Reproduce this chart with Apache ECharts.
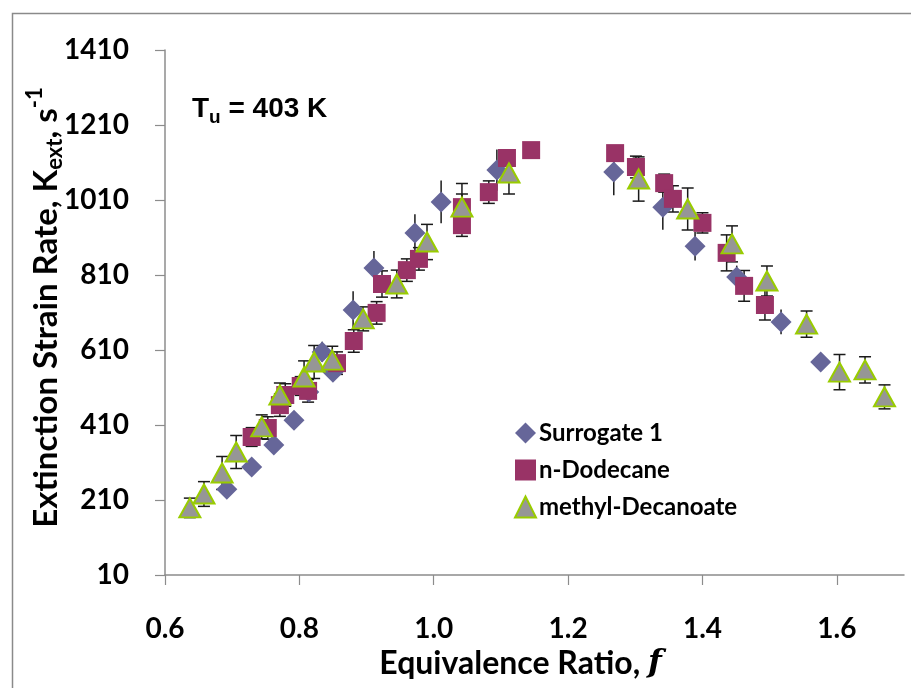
<!DOCTYPE html>
<html><head><meta charset="utf-8">
<script src="https://cdn.jsdelivr.net/npm/echarts@6/dist/echarts.min.js"></script>
<style>html,body{margin:0;padding:0;background:#fff}#c{width:911px;height:688px}</style>
</head><body><div id="c"></div>
<script>
// ---- data ----
const seriesNames = ['Surrogate 1', 'n-Dodecane', 'methyl-Decanoate'];

const surrogateX = [0.692, 0.729, 0.762, 0.792, 0.814, 0.834, 0.850, 0.880, 0.911, 0.972, 1.011, 1.094,
                    1.268, 1.341, 1.389, 1.451, 1.517, 1.576];
const surrogateY = [239, 298, 357, 423, 498, 605, 551, 717, 829, 922, 1005, 1090,
                    1085, 991, 887, 805, 685, 578];
const surrogateErr = [0, 0, 0, 0, 0, 27, 0, 50, 45, 50, 57, 55,
                      62, 60, 38, 30, 33, 0];

const dodecaneX = [0.729, 0.753, 0.771, 0.779, 0.802, 0.813, 0.856, 0.881, 0.915, 0.923, 0.960, 0.978,
                   1.042, 1.042, 1.082, 1.109, 1.145,
                   1.270, 1.301, 1.343, 1.356, 1.400, 1.436, 1.462, 1.493];
const dodecaneY = [378, 402, 463, 490, 514, 501, 575, 634, 709, 786, 823, 853,
                   991, 943, 1031, 1122, 1143,
                   1135, 1098, 1055, 1013, 949, 869, 781, 730];
const dodecaneErr = [25, 30, 30, 30, 25, 30, 30, 30, 30, 35, 30, 30,
                     35, 30, 30, 20, 15,
                     12, 29, 24, 35, 27, 48, 41, 40];

const decanoateX = [0.637, 0.658, 0.685, 0.706, 0.744, 0.771, 0.807, 0.822, 0.849, 0.895, 0.945, 0.990,
                    1.042, 1.112,
                    1.305, 1.378, 1.444, 1.496, 1.555, 1.604, 1.642, 1.671];
const decanoateY = [189, 226, 282, 338, 405, 490, 538, 578, 583, 693, 786, 898,
                    991, 1082,
                    1066, 986, 893, 794, 679, 551, 557, 485];
const decanoateErr = [26, 33, 44, 44, 32, 32, 43, 44, 37, 32, 37, 47,
                      63, 56,
                      59, 56, 48, 40, 35, 47, 35, 32];

const xTicks = [0.6, 0.8, 1.0, 1.2, 1.4, 1.6];
const yTicks = [10, 210, 410, 610, 810, 1010, 1210, 1410];

// ---- chart ----
const FONT = 'Lato';
function pts(xs, ys) { return xs.map((x, i) => [x, ys[i]]); }

function errSeries(xs, ys, errs, caps) {
  const data = [];
  xs.forEach((x, i) => { if (errs[i] > 0) data.push([x, ys[i] - errs[i], ys[i] + errs[i]]); });
  return {
    type: 'custom', silent: true, z: 1,
    data: data,
    encode: { x: 0, y: [1, 2] },
    renderItem: function (params, api) {
      const x = api.value(0);
      const lo = api.coord([x, api.value(1)]);
      const hi = api.coord([x, api.value(2)]);
      const st = { stroke: '#1a1a1a', lineWidth: 1.5 };
      const ch = [{ type: 'line', shape: { x1: lo[0], y1: lo[1], x2: hi[0], y2: hi[1] }, style: st }];
      if (caps) {
        ch.push({ type: 'line', shape: { x1: lo[0] - 6, y1: lo[1], x2: lo[0] + 6, y2: lo[1] }, style: st });
        ch.push({ type: 'line', shape: { x1: hi[0] - 6, y1: hi[1], x2: hi[0] + 6, y2: hi[1] }, style: st });
      }
      return { type: 'group', children: ch };
    }
  };
}

const chart = echarts.init(document.getElementById('c'), null, { renderer: 'canvas' });
chart.setOption({
  animation: false,
  backgroundColor: '#ffffff',
  textStyle: { fontFamily: FONT },
  grid: { left: 165, right: 7, top: 50, bottom: 113, outerBoundsMode: 'none', containLabel: false },
  xAxis: {
    type: 'value', min: 0.6, max: 1.7, interval: 0.2,
    splitLine: { show: false },
    axisLine: { lineStyle: { color: '#8c8c8c', width: 1.5 } },
    axisTick: { length: 10, lineStyle: { color: '#8c8c8c', width: 1.2 }, customValues: xTicks },
    axisLabel: { customValues: xTicks, margin: 40, fontSize: 28, fontWeight: 'bold', color: '#000',
                 formatter: v => v.toFixed(1) },
    name: '{a|Equivalence Ratio, }{b|f}',
    nameLocation: 'middle', nameGap: 73, nameMoveOverlap: false,
    nameTextStyle: {
      padding: [0, 28, 0, 0],
      rich: {
        a: { fontSize: 32, fontWeight: 'bold', color: '#000', fontFamily: FONT },
        b: { fontSize: 32, fontWeight: 'bold', fontStyle: 'italic', color: '#000', fontFamily: 'DejaVu Serif' }
      }
    }
  },
  yAxis: {
    type: 'value', min: 10, max: 1410,
    splitLine: { show: false },
    axisLine: { show: true, lineStyle: { color: '#8c8c8c', width: 1.5 } },
    axisTick: { show: true, length: 10, lineStyle: { color: '#8c8c8c', width: 1.2 }, customValues: yTicks },
    axisLabel: { customValues: yTicks, margin: 36, fontSize: 28, fontWeight: 'bold', color: '#000',
                 formatter: v => String(v) },
    name: '{a|Extinction Strain Rate, K}{sub|ext}{a|, s}{sup|-1}',
    nameLocation: 'middle', nameGap: 97, nameRotate: 90, nameMoveOverlap: false,
    nameTextStyle: {
      padding: [0, 0, 0, 10],
      rich: {
        a: { fontSize: 33, fontWeight: 'bold', color: '#000', lineHeight: 44, verticalAlign: 'middle' },
        sub: { fontSize: 22, fontWeight: 'bold', color: '#000', lineHeight: 44, verticalAlign: 'bottom', padding: [0, 0, 2, 0] },
        sup: { fontSize: 22, fontWeight: 'bold', color: '#000', lineHeight: 44, verticalAlign: 'top' }
      }
    }
  },
  legend: {
    data: [
      { name: seriesNames[0], icon: 'diamond' },
      { name: seriesNames[1], icon: 'rect' },
      { name: seriesNames[2], icon: 'triangle' }
    ],
    orient: 'vertical', left: 509, top: 416, itemGap: 13, itemWidth: 21, itemHeight: 21,
    textStyle: { fontSize: 24, fontWeight: 'bold', color: '#000', fontFamily: FONT, padding: [0, 0, 0, -2] }
  },
  graphic: [
    { type: 'rect', left: 10, top: 11, silent: true,
      shape: { width: 930, height: 700 }, style: { fill: null, stroke: '#8a8a8a', lineWidth: 1.5 } },
    { type: 'text', left: 192, top: 95, silent: true,
      style: { text: '{a|T}{s|u}{a| = 403 K}', fontFamily: FONT,
        rich: {
          a: { fontSize: 28, fontWeight: 'bold', fill: '#000', lineHeight: 36, verticalAlign: 'middle' },
          s: { fontSize: 19, fontWeight: 'bold', fill: '#000', lineHeight: 36, verticalAlign: 'bottom' }
        } } }
  ],
  series: [
    errSeries(surrogateX, surrogateY, surrogateErr, false),
    errSeries(dodecaneX, dodecaneY, dodecaneErr, true),
    errSeries(decanoateX, decanoateY, decanoateErr, true),
    { name: seriesNames[0], type: 'scatter', z: 3, symbol: 'diamond', symbolSize: 21,
      itemStyle: { color: '#666699', opacity: 1 }, data: pts(surrogateX, surrogateY) },
    { name: seriesNames[1], type: 'scatter', z: 4, symbol: 'rect', symbolSize: 18,
      itemStyle: { color: '#993366', opacity: 1 }, data: pts(dodecaneX, dodecaneY) },
    { name: seriesNames[2], type: 'scatter', z: 5, symbol: 'triangle', symbolSize: [21, 19],
      itemStyle: { color: '#969696', borderColor: '#99cc00', borderWidth: 2, opacity: 1 }, data: pts(decanoateX, decanoateY) }
  ]
});
</script>
</body></html>
